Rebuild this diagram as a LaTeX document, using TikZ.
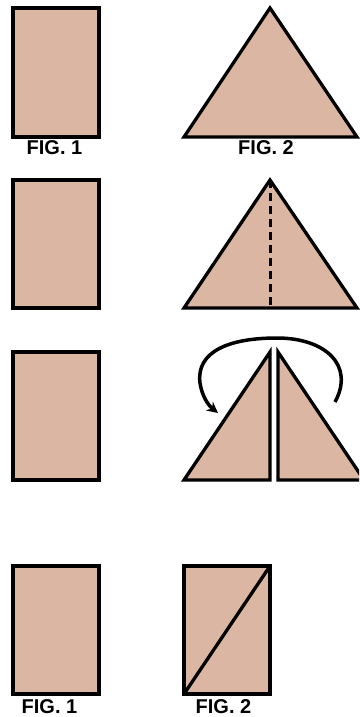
\documentclass[tikz,border=0pt]{standalone}
\usepackage{fontspec}
\setmainfont{Liberation Sans}
\usetikzlibrary{arrows.meta}
\definecolor{paper}{RGB}{218,182,163}
\tikzset{
  sheet/.style={fill=paper,draw=black,line width=3.3pt,line join=miter},
  fold/.style={draw=black,line width=3pt,dash pattern=on 8pt off 5pt},
  lbl/.style={font=\bfseries\fontsize{20}{20}\selectfont,inner sep=0pt,anchor=center},
  turn/.style={draw=black,line width=3.5pt,-{Stealth[length=11pt,width=11pt]}}
}
\begin{document}
\begin{tikzpicture}[x=1pt,y=-1pt]
\useasboundingbox (0,0) rectangle (359,717);
\fill[white] (0,0) rectangle (359,717);
% row 1
\draw[sheet] (13,8) rectangle (99,137);
\draw[sheet] (184,137) -- (270,8) -- (357,137) -- cycle;
\node[lbl] (f1a) at (54.5,147.5) {FIG. 1};
\node[lbl] (f2a) at (266,147.5) {FIG. 2};
% row 2
\draw[sheet] (13,180) rectangle (99,308);
\draw[sheet] (184,308) -- (270,180) -- (357,308) -- cycle;
\draw[fold] (270,180) -- (270,308);
% row 3
\draw[sheet] (13,352) rectangle (99,480);
\draw[sheet] (184,480) -- (270,352) -- (270,480) -- cycle;
\begin{scope}
\clip (0,0) rectangle (359,717);
\draw[sheet] (278,480) -- (278,352) -- (364,480) -- cycle;
\end{scope}
\draw[turn] (335,402) .. controls (355,365) and (325,338) .. (277,338)
  .. controls (228,338) and (196,352) .. (200,383)
  .. controls (202,396) and (208,405) .. (218,413);
% row 4
\draw[sheet] (13,566) rectangle (99,694);
\draw[sheet] (184,566) rectangle (270,694);
\draw[sheet] (184,694) -- (270,566);
\node[lbl] (f1b) at (49.5,707) {FIG. 1};
\node[lbl] (f2b) at (223.5,707) {FIG. 2};
\end{tikzpicture}
\end{document}
